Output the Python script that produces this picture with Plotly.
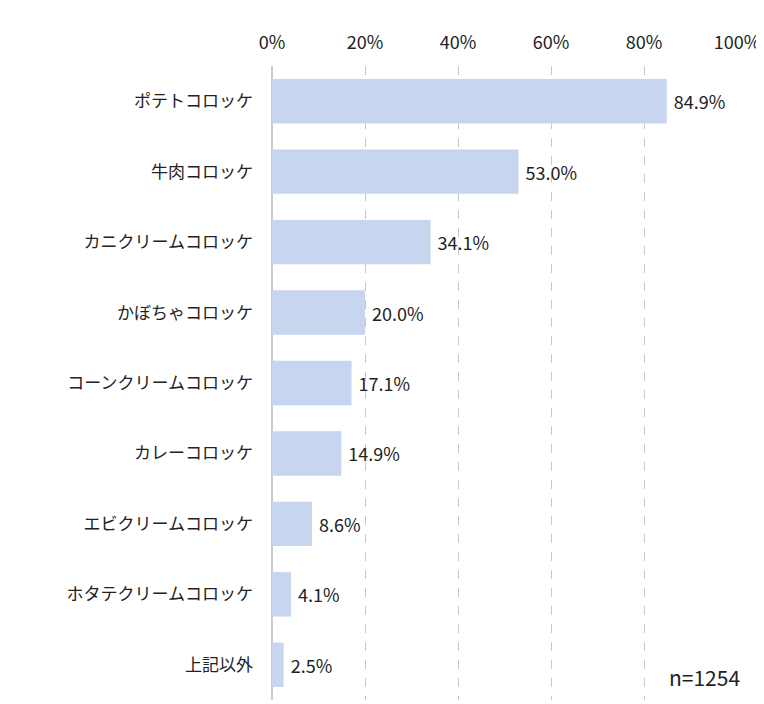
import plotly.graph_objects as go

categories = ['ポテトコロッケ', '牛肉コロッケ', 'カニクリームコロッケ', 'かぼちゃコロッケ',
              'コーンクリームコロッケ', 'カレーコロッケ', 'エビクリームコロッケ',
              'ホタテクリームコロッケ', '上記以外']
values = [84.9, 53.0, 34.1, 20.0, 17.1, 14.9, 8.6, 4.1, 2.5]
tick_vals = [0, 20, 40, 60, 80, 100]
tick_text = ['0%', '20%', '40%', '60%', '80%', '100%']

font = 'Noto Sans CJK JP'

fig = go.Figure(go.Bar(
    x=values, y=categories, orientation='h',
    marker=dict(color='#c7d5ee', line=dict(width=0)),
    text=[f' {v:.1f}%' for v in values], textposition='outside',
    textfont=dict(size=18, color='#222'), cliponaxis=False,
))

fig.update_layout(
    width=764, height=704,
    margin=dict(l=264, r=35, t=58, b=12),
    plot_bgcolor='white', paper_bgcolor='white',
    bargap=0.37, showlegend=False,
    font=dict(family=font, size=17, color='#222'),
    annotations=[dict(text='n=1254', x=1.01, y=0.01, xref='paper', yref='paper',
                      xanchor='right', yanchor='bottom', showarrow=False,
                      font=dict(size=21, color='#222'))],
)
fig.update_xaxes(range=[0, 100], side='top', tickvals=tick_vals, ticktext=tick_text,
                 tickfont=dict(size=18), showgrid=True, gridcolor='#c8c8c8',
                 griddash='dash', gridwidth=1, zeroline=True, zerolinecolor='#cccccc',
                 showline=False, ticks='', automargin=False, ticklabelstandoff=12)
fig.update_yaxes(autorange='reversed', ticks='', ticklabelstandoff=18,
                 tickfont=dict(size=17), automargin=False)

fig.write_html('out.html')
